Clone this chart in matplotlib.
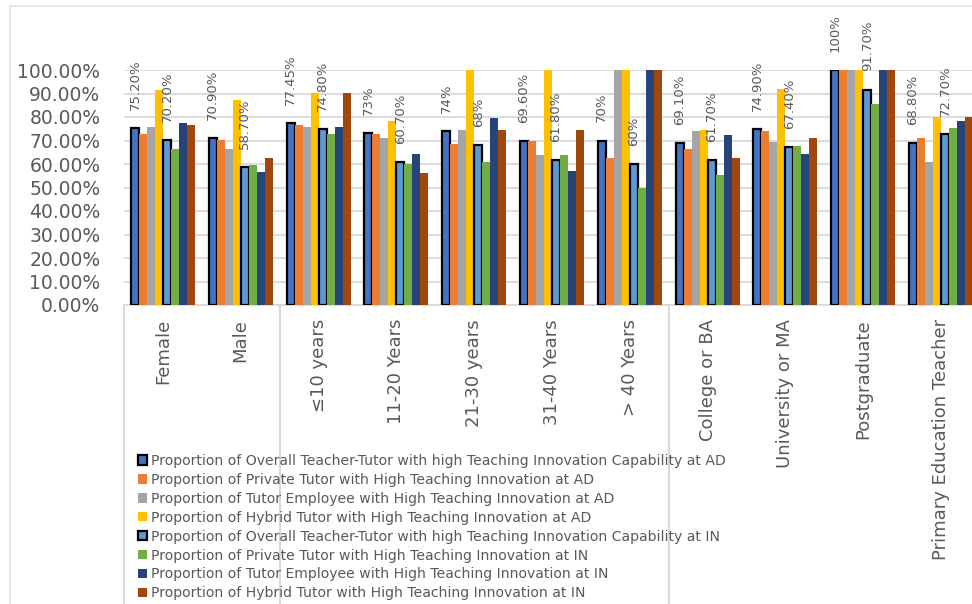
import numpy as np
import matplotlib
matplotlib.use('Agg')
import matplotlib.pyplot as plt
from matplotlib.patches import Patch
from matplotlib.lines import Line2D

categories = ['Female', 'Male', '\u226410 years', '11-20 Years', '21-30 years',
              '31-40 Years', '> 40 Years', 'College or BA', 'University or MA',
              'Postgraduate', 'Primary Education Teacher']

series_names = [
    'Proportion of Overall Teacher-Tutor with high Teaching Innovation Capability at AD',
    'Proportion of Private Tutor with High Teaching Innovation at AD',
    'Proportion of Tutor Employee with High Teaching Innovation at AD',
    'Proportion of Hybrid Tutor with High Teaching Innovation at AD',
    'Proportion of Overall Teacher-Tutor with high Teaching Innovation Capability at IN',
    'Proportion of Private Tutor with High Teaching Innovation at IN',
    'Proportion of Tutor Employee with High Teaching Innovation at IN',
    'Proportion of Hybrid Tutor with High Teaching Innovation at IN',
]

overall_ad  = [75.20, 70.90, 77.45, 73.0, 74.0, 69.60, 70.0, 69.10, 74.90, 100.0, 68.80]
private_ad  = [72.8, 70.2, 76.5, 72.6, 68.5, 69.8, 62.4, 66.2, 74.0, 100.0, 71.1]
employee_ad = [75.9, 66.2, 75.9, 70.9, 74.5, 63.8, 100.0, 73.9, 69.2, 100.0, 60.7]
hybrid_ad   = [91.5, 87.2, 90.1, 78.2, 100.0, 100.0, 100.0, 74.6, 92.1, 100.0, 80.0]
overall_in  = [70.20, 58.70, 74.80, 60.70, 68.0, 61.80, 60.0, 61.70, 67.40, 91.70, 72.70]
private_in  = [66.2, 59.6, 72.8, 60.0, 60.7, 63.8, 50.0, 55.3, 67.8, 85.4, 75.3]
employee_in = [77.6, 56.5, 75.9, 64.3, 79.4, 57.2, 100.0, 72.2, 64.4, 100.0, 78.2]
hybrid_in   = [76.5, 62.6, 90.1, 56.0, 74.5, 74.5, 100.0, 62.6, 71.1, 100.0, 80.0]

label_ad = ['75.20%', '70.90%', '77.45%', '73%', '74%', '69.60%', '70%',
            '69.10%', '74.90%', '100%', '68.80%']
label_in = ['70.20%', '58.70%', '74.80%', '60.70%', '68%', '61.80%', '60%',
            '61.70%', '67.40%', '91.70%', '72.70%']

series = [overall_ad, private_ad, employee_ad, hybrid_ad,
          overall_in, private_in, employee_in, hybrid_in]
colors = ['#4472C4', '#ED7D31', '#A5A5A5', '#FFC000',
          '#5B9BD5', '#70AD47', '#264478', '#9E480E']
outlined = [0, 4]

grey_txt = '#595959'
line_c = '#D9D9D9'

fig = plt.figure(figsize=(9.72, 6.04), dpi=100)
ax = fig.add_axes([124/972, 1 - 305/604, 856/972, 235/604])

x = np.arange(len(categories))
w = 0.1028
for i, vals in enumerate(series):
    pos = x + (i - 3.5) * w
    if i in outlined:
        ax.bar(pos, vals, w, color=colors[i], edgecolor='black', linewidth=1.6, zorder=3)
    else:
        ax.bar(pos, vals, w, color=colors[i], linewidth=0, zorder=3)

for i, labs in [(0, label_ad), (4, label_in)]:
    pos = x + (i - 3.5) * w
    for xp, v, t in zip(pos, series[i], labs):
        ax.annotate(t, (xp, v), xytext=(0, 13), textcoords='offset points',
                    rotation=90, ha='center', va='bottom', fontsize=9.5,
                    color=grey_txt, annotation_clip=False)

ax.set_xlim(-0.5, len(categories) - 0.5)
ax.set_ylim(0, 100)
ax.set_yticks(np.arange(0, 101, 10))
ax.set_yticklabels(['%.2f%%' % v for v in np.arange(0, 101, 10)])
ax.tick_params(axis='y', length=0, pad=17, labelsize=13.5, labelcolor=grey_txt)
ax.set_xticks(x)
ax.set_xticklabels(categories, rotation=90, va='top', ha='center')
ax.tick_params(axis='x', length=0, pad=10, labelsize=13, labelcolor=grey_txt)
ax.grid(axis='y', color=line_c, linewidth=1.3, zorder=0)
for s in ['top', 'right', 'left']:
    ax.spines[s].set_visible(False)
ax.spines['bottom'].set_color(line_c)
ax.spines['bottom'].set_linewidth(1.3)

# group separators below the axis
for b in [-0.5, 1.5, 6.5]:
    ax.plot([b, b], [0, -1.3], transform=ax.get_xaxis_transform(),
            color=line_c, linewidth=1.5, clip_on=False)

# chart area border (left and top)
border = '#ECE9DA'
fig.add_artist(Line2D([10/972, 10/972], [0, 1 - 6/604], color=border, linewidth=1.5))
fig.add_artist(Line2D([10/972, 1], [1 - 6/604, 1 - 6/604], color=border, linewidth=1.5))

handles = []
for i in range(8):
    if i in outlined:
        handles.append(Patch(facecolor=colors[i], edgecolor='black', linewidth=1.6))
    else:
        handles.append(Patch(facecolor=colors[i], edgecolor='none'))
leg = fig.legend(handles, series_names, loc='upper left',
                 bbox_to_anchor=(138/972, 1 - 454/604), frameon=False,
                 prop={'family': ['Liberation Sans Narrow', 'DejaVu Sans'], 'size': 10.1},
                 handlelength=0.65, handleheight=0.65, handletextpad=0.3,
                 labelspacing=0.35, borderpad=0, borderaxespad=0)
for t in leg.get_texts():
    t.set_color(grey_txt)

fig.savefig('out.png', dpi=100)
